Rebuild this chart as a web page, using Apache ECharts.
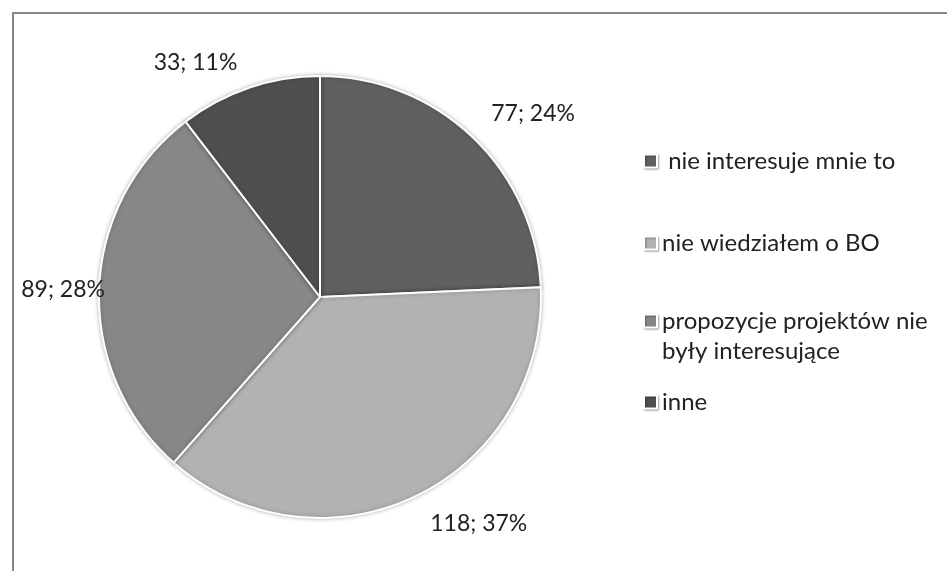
<!DOCTYPE html>
<html>
<head>
<meta charset="utf-8">
<script src="https://cdn.jsdelivr.net/npm/echarts@6/dist/echarts.min.js"></script>
<style>
  html, body { margin: 0; padding: 0; background: #fff; }
  #chart { width: 947px; height: 571px; }
</style>
</head>
<body>
<div id="chart"></div>
<script>
// Survey answers: why respondents did not take part
const categories = ['nie interesuje mnie to', 'nie wiedziałem o BO', 'propozycje projektów nie były interesujące', 'inne'];
const counts = [77, 118, 89, 33];
const percentLabels = ['24%', '37%', '28%', '11%'];
const sliceColors = ['#606060', '#b2b2b2', '#878787', '#4f4f4f'];

const FONT = 'Lato, "Open Sans", sans-serif';
const CX = 320, CY = 297, R = 221;

const chart = echarts.init(document.getElementById('chart'), null, { renderer: 'canvas' });

// label anchor offsets (radius multiplier, extra dx, dy) per slice
const labelTweak = [
  { k: 1.12, dx: 42, dy: -5 },
  { k: 1.12, dx: 52, dy: 3 },
  { k: 1.00, dx: -36, dy: 0 },
  { k: 1.12, dx: -45, dy: 0 }
];

const seriesData = categories.map((name, i) => ({
  name: name,
  value: counts[i],
  itemStyle: { color: sliceColors[i] }
}));

// legend text per entry; the wrapped entry gets an empty first line so
// its first text line sits level with the swatch
const legendText = [
  ' nie interesuje mnie to',
  'nie wiedziałem o BO',
  '\npropozycje projektów nie\nbyły interesujące',
  'inne'
];

// one legend block per entry so each row sits at its own height
const legendTops = [141, 223, 271, 382];
const legends = categories.map((name, i) => ({
  data: [name],
  left: 638,
  top: legendTops[i],
  orient: 'vertical',
  icon: 'rect',
  itemWidth: 13,
  itemHeight: 13,
  itemGap: 0,
  selectedMode: false,
  itemStyle: {
    shadowBlur: 2,
    shadowOffsetX: 1,
    shadowOffsetY: 1,
    shadowColor: 'rgba(0,0,0,0.3)'
  },
  formatter: legendText[i],
  textStyle: {
    fontFamily: FONT,
    fontSize: 24,
    color: '#222',
    lineHeight: 30
  }
}));

chart.setOption({
  animation: false,
  backgroundColor: '#fff',
  graphic: [{
    type: 'rect',
    shape: { x: 13, y: 13, width: 1000, height: 1000 },
    style: { fill: 'none', stroke: '#868686', lineWidth: 2 },
    silent: true
  }],
  legend: legends,
  series: [{
    type: 'pie',
    center: [CX, CY],
    radius: R,
    startAngle: 90,
    clockwise: true,
    data: seriesData,
    itemStyle: {
      borderColor: '#fff',
      borderWidth: 2,
      shadowBlur: 4,
      shadowColor: 'rgba(0,0,0,0.25)'
    },
    label: {
      show: true,
      position: 'outside',
      formatter: p => counts[p.dataIndex] + '; ' + percentLabels[p.dataIndex],
      fontFamily: FONT,
      fontSize: 23,
      color: '#222'
    },
    labelLine: { show: false, length: 0, length2: 0 },
    labelLayout: function (params) {
      const i = params.dataIndex;
      const total = counts.reduce((a, b) => a + b, 0);
      let before = 0;
      for (let j = 0; j < i; j++) before += counts[j];
      const mid = (before + counts[i] / 2) / total * Math.PI * 2;
      const t = labelTweak[i];
      return {
        x: CX + Math.sin(mid) * R * t.k + t.dx,
        y: CY - Math.cos(mid) * R * t.k + t.dy,
        align: 'center',
        verticalAlign: 'middle'
      };
    }
  }]
});
</script>
</body>
</html>
